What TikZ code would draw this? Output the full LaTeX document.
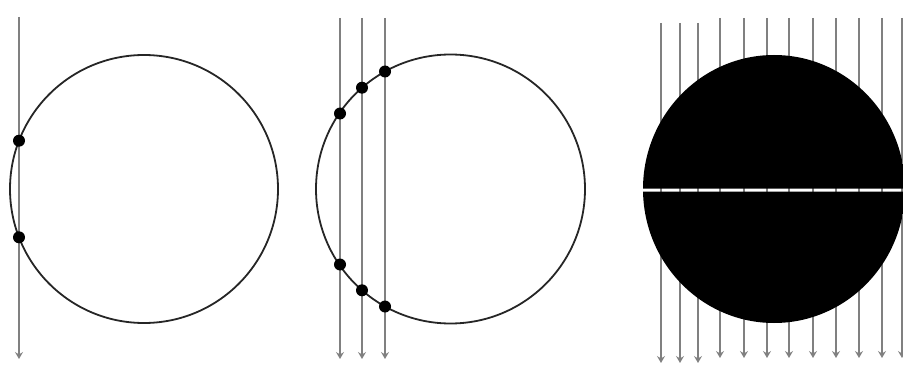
\documentclass[tikz,border=0pt]{standalone}
\usetikzlibrary{arrows.meta}
\begin{document}
\begin{tikzpicture}[x=1pt,y=-1pt,
  ray/.style={draw=black!50,line width=1.5pt,-{Stealth[length=7pt,width=8pt,inset=2.5pt]}},
  ring/.style={draw=black!85,line width=1.8pt},
  hit/.style={fill=black}]
\useasboundingbox (0,0) rectangle (903,369);
% ---------- panel 1 ----------
\coordinate (a1t) at (19,17);
\coordinate (a1b) at (19,359);
\draw[ray] (a1t) -- (a1b);
\draw[ring] (144,189) circle[radius=134];
\fill[hit] (19,140.7) circle[radius=6];
\fill[hit] (19,237.3) circle[radius=6];
% ---------- panel 2 ----------
\foreach \x/\n in {340/1,362/2,385/3}{
  \coordinate (b\n t) at (\x,18);
  \coordinate (b\n b) at (\x,359);
  \draw[ray] (b\n t) -- (b\n b);
}
\draw[ring] (450.5,189) circle[radius=134.5];
\foreach \x/\ya/\yb in {340/113.5/264.5,362/87.7/290.3,385/71.5/306.5}{
  \fill[hit] (\x,\ya) circle[radius=6];
  \fill[hit] (\x,\yb) circle[radius=6];
}
% ---------- panel 3 ----------
\foreach \x/\n in {661/1,680/2,698/3}{
  \coordinate (c\n t) at (\x,23);
  \coordinate (c\n b) at (\x,363);
  \draw[ray] (c\n t) -- (c\n b);
}
\foreach \x/\n in {720/4,744/5,767/6,789/7,813/8,836/9,859/10,882/11,902/12}{
  \coordinate (c\n t) at (\x,18);
  \coordinate (c\n b) at (\x,358);
  \draw[ray] (c\n t) -- (c\n b);
}
\begin{scope}
  \clip (774,189) ellipse[x radius=131,y radius=134];
  \fill[black,even odd rule] (600,40) rectangle (920,340)
        (600,188.5) rectangle (920,191.5);
\end{scope}
\end{tikzpicture}
\end{document}
